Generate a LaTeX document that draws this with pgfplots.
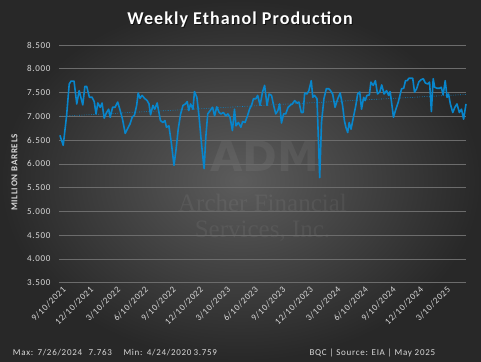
\documentclass[border=0pt]{standalone}
\usepackage{pgfplots}
\pgfplotsset{compat=1.18}
\usepackage{fontspec}
\setmainfont{Carlito}
\newfontfamily\lsfont{Carlito}[LetterSpace=8]
\newfontfamily\titlefont{Carlito}[LetterSpace=6]
\newfontfamily\wmserif{Liberation Serif}
\newfontfamily\wmsans{DejaVu Sans}
\definecolor{linebl}{RGB}{8,134,204}
\definecolor{gridc}{RGB}{108,108,108}
\definecolor{tickc}{RGB}{217,217,217}
\definecolor{bgin}{RGB}{92,92,92}
\definecolor{bgout}{RGB}{40,40,40}
\begin{document}
\begin{tikzpicture}
\shade[inner color=bgin, outer color=bgout] (0pt,0pt) rectangle (481pt,361pt);
\clip (0pt,0pt) rectangle (481pt,361pt);
% watermark
\node[white, opacity=0.06, font=\wmsans\bfseries\fontsize{42}{44}\selectfont] at (265pt,205pt) {ADM};
\node[white, opacity=0.06, font=\wmserif\fontsize{25}{27}\selectfont] at (262.5pt,158pt) {Archer Financial};
\node[white, opacity=0.06, font=\wmserif\fontsize{25}{27}\selectfont] at (262.5pt,130pt) {Services, Inc.};
\begin{axis}[
  at={(59pt,78.3pt)}, anchor=south west,
  scale only axis, width=407pt, height=237.7pt,
  xmin=-10, xmax=1342, ymin=3.5, ymax=8.5,
  ytick={3.5,4,4.5,5,5.5,6,6.5,7,7.5,8,8.5},
  xtick={0,91,181,273,365,456,546,638,730,821,912,1004,1096,1187,1277},
  xticklabels={9/10/2021,12/10/2021,3/10/2022,6/10/2022,9/10/2022,12/10/2022,3/10/2023,6/10/2023,9/10/2023,12/10/2023,3/10/2024,6/10/2024,9/10/2024,12/10/2024,3/10/2025},
  axis line style={draw=none}, major tick length=0pt,
  ymajorgrids, grid style={gridc, line width=0.6pt},
  tick label style={tickc, font=\lsfont\fontsize{9}{10}\selectfont},
  /pgf/number format/assume math mode=true,
  yticklabel style={xshift=-5pt, /pgf/number format/.cd, fixed, fixed zerofill, precision=3, /tikz/.cd},
  xticklabel style={rotate=45, anchor=north east, inner sep=2pt},
  clip=false,
]
\addplot[linebl, line width=0.6pt, dash pattern=on 0.8pt off 1.6pt] coordinates {(-7,7.0) (1342,7.46)};
\addplot[linebl, line width=1.6pt, line join=round] coordinates {
(-7,6.60) (4,6.39) (15,7.00) (24,7.68) (30,7.74) (40,7.74) (49,7.26) (57,7.54) (69,7.24) (76,7.63) (82,7.63) (91,7.40) (100,7.40) (107,7.31) (113,7.05) (119,7.28) (127,7.19) (133,7.28) (140,6.96) (148,7.08) (155,7.15) (160,6.98) (168,7.19) (176,7.19) (185,7.30) (192,7.15) (201,6.94) (210,6.64) (217,6.73) (226,6.84) (233,6.98) (241,7.03) (248,7.23) (253,7.49) (259,7.38) (266,7.44) (274,7.38) (283,7.33) (289,7.26) (294,7.03) (302,7.23) (308,7.15) (316,7.28) (322,7.08) (327,6.91) (335,6.87) (342,6.91) (347,6.77) (355,6.80) (363,6.45) (372,5.97) (379,6.31) (386,6.73) (394,7.05) (402,7.23) (410,7.26) (416,7.31) (421,7.12) (427,7.26) (435,7.15) (440,7.52) (448,7.40) (455,7.01) (464,6.38) (472,5.90) (478,6.59) (484,7.05) (492,7.12) (500,7.19) (507,7.01) (514,7.20) (522,7.08) (528,7.05) (536,7.08) (544,7.01) (551,7.05) (558,6.98) (566,6.70) (573,7.15) (578,6.80) (586,6.87) (594,6.77) (600,6.89) (608,6.87) (616,7.01) (623,7.15) (630,7.24) (636,7.37) (644,7.37) (650,7.44) (658,7.23) (666,7.51) (673,7.65) (681,7.23) (688,7.47) (696,7.44) (703,7.23) (710,7.05) (717,7.12) (723,7.26) (729,6.86) (736,7.05) (743,7.05) (751,7.19) (759,7.24) (765,7.26) (773,7.33) (780,7.28) (787,7.30) (795,7.08) (801,7.08) (806,7.49) (814,7.47) (820,7.54) (828,7.75) (833,7.40) (839,7.44) (847,7.37) (856,5.71) (862,6.87) (870,7.37) (878,7.58) (886,7.58) (892,7.54) (899,7.47) (907,7.19) (916,7.37) (924,7.49) (932,7.23) (938,6.91) (943,6.77) (949,6.66) (954,6.87) (960,6.73) (968,6.98) (976,7.23) (982,7.47) (989,7.51) (995,7.15) (1002,7.40) (1007,7.33) (1013,7.44) (1021,7.45) (1026,7.72) (1034,7.65) (1041,7.75) (1048,7.47) (1056,7.52) (1062,7.66) (1070,7.47) (1078,7.54) (1085,7.44) (1090,7.52) (1096,7.23) (1101,6.98) (1109,7.15) (1117,7.30) (1128,7.58) (1135,7.59) (1141,7.75) (1147,7.75) (1152,7.80) (1160,7.80) (1165,7.80) (1171,7.51) (1178,7.58) (1185,7.72) (1193,7.77) (1200,7.79) (1207,7.70) (1215,7.68) (1221,7.72) (1227,7.10) (1233,7.79) (1238,7.61) (1246,7.59) (1254,7.59) (1260,7.61) (1266,7.45) (1273,7.75) (1279,7.40) (1284,7.47) (1290,7.26) (1298,7.08) (1305,7.19) (1312,7.26) (1320,7.08) (1327,7.15) (1334,6.94) (1342,7.26)
};
\end{axis}
% title
\node[anchor=base, black, opacity=0.6, font=\titlefont\bfseries\fontsize{18}{20}\selectfont] at (241pt,335pt) {Weekly Ethanol Production};
\node[anchor=base, white, font=\titlefont\bfseries\fontsize{18}{20}\selectfont] at (240pt,336pt) {Weekly Ethanol Production};
% y label
\node[rotate=90, tickc, font=\lsfont\bfseries\fontsize{9}{10}\selectfont] at (14.5pt,188.5pt) {MILLION BARRELS};
% footer
\begin{scope}[every node/.style={anchor=base west, inner sep=0pt, tickc, font=\lsfont\fontsize{9}{10}\selectfont}]
\node at (12.7pt,6pt) {Max:};
\node at (37.3pt,6pt) {7/26/2024};
\node at (88.3pt,6pt) {7.763};
\node at (123.3pt,6pt) {Min:};
\node at (146.7pt,6pt) {4/24/2020};
\node at (193.3pt,6pt) {3.759};
\node at (309.3pt,6pt) {BQC | Source: EIA | May 2025};
\end{scope}
\end{tikzpicture}
\end{document}
